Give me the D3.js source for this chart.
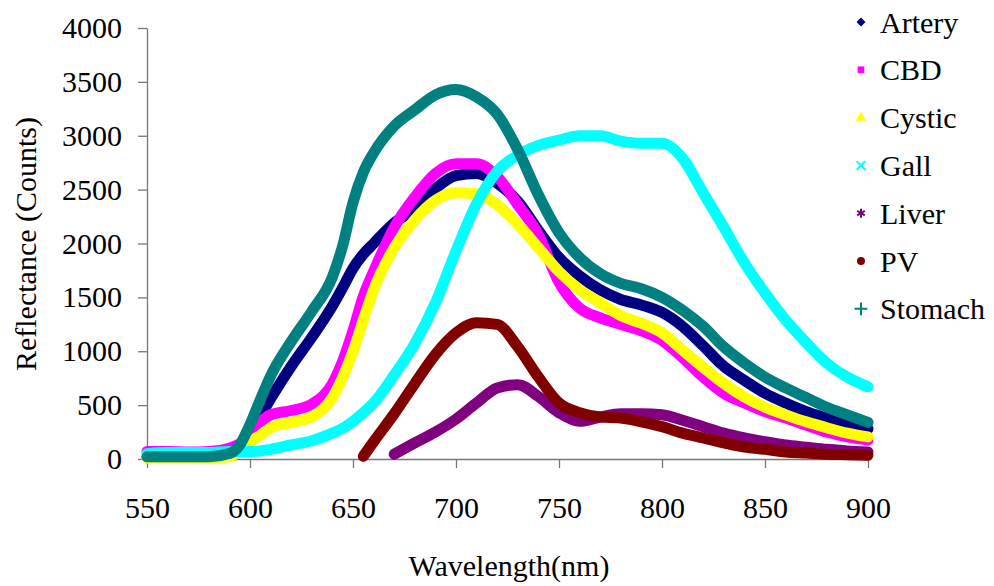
<!DOCTYPE html>
<html lang="en">
<head>
    <meta charset="UTF-8">
    <script src="https://cdnjs.cloudflare.com/ajax/libs/d3/7.8.5/d3.min.js"></script>
    <title>Reflectance spectra</title>
    <style>
        body { margin: 0; background: #fff; }
    </style>
</head>
<body>
    <svg width="994" height="586"></svg>
    <script>
        // wavelength grid (nm) shared by all series
        var wavelength = [550, 560, 570, 580, 590, 595, 600, 605, 610, 620, 630, 640, 645, 650, 655, 660,
            670, 680, 690, 700, 710, 720, 730, 740, 750, 760, 770, 780, 790, 800,
            810, 820, 830, 840, 850, 860, 870, 880, 890, 900];

        var artery = [20, 20, 20, 20, 30, 110, 260, 400, 560, 860, 1130, 1420, 1590, 1770, 1900, 2000,
            2190, 2320, 2510, 2630, 2650, 2560, 2390, 2120, 1870, 1700, 1570, 1480, 1430, 1360,
            1230, 1050, 860, 730, 610, 520, 440, 380, 320, 280];
        var cbd = [70, 70, 65, 70, 100, 140, 200, 340, 410, 450, 510, 700, 910, 1190, 1510, 1740,
            2150, 2430, 2650, 2740, 2740, 2620, 2360, 2080, 1640, 1400, 1310, 1250, 1190, 1100,
            940, 760, 610, 520, 440, 380, 315, 250, 205, 175];
        var cystic = [10, 10, 10, 10, 20, 80, 160, 220, 290, 340, 390, 570, 760, 1000, 1290, 1570,
            1960, 2220, 2400, 2470, 2460, 2360, 2180, 1960, 1740, 1570, 1450, 1330, 1260, 1170,
            1010, 850, 700, 575, 480, 410, 345, 290, 240, 205];
        var gall = [50, 60, 60, 60, 70, 70, 70, 75, 90, 130, 170, 240, 285, 350, 430, 520,
            780, 1070, 1450, 1930, 2370, 2670, 2820, 2910, 2960, 3000, 3000, 2950, 2930, 2930,
            2790, 2470, 2150, 1820, 1540, 1290, 1080, 890, 760, 670];
        var liver = [null, null, null, null, null, null, null, null, null, null, null, null, null, null, null, null,
            45, 150, 250, 370, 520, 660, 690, 580, 430, 350, 390, 420, 420, 410,
            360, 300, 240, 195, 160, 130, 110, 90, 75, 65];
        var pv = [null, null, null, null, null, null, null, null, null, null, null, null, null, null, 25, 160,
            420, 700, 970, 1170, 1265, 1250, 1040, 760, 520, 430, 390, 380, 345, 300,
            240, 195, 150, 110, 90, 65, 55, 45, 40, 35];
        var stomach = [20, 20, 20, 20, 50, 130, 320, 550, 770, 1090, 1370, 1690, 1980, 2380, 2660, 2840,
            3090, 3240, 3380, 3430, 3360, 3200, 2870, 2450, 2100, 1870, 1720, 1630, 1580, 1500,
            1380, 1230, 1040, 890, 760, 660, 570, 480, 410, 340];

        var seriesNames = ["Artery", "CBD", "Cystic", "Gall", "Liver", "PV", "Stomach"];
        var seriesValues = [artery, cbd, cystic, gall, liver, pv, stomach];
        var seriesColors = ["#000080", "#ff00ff", "#ffff00", "#00ffff", "#800080", "#800000", "#008080"];
        var xTicks = [550, 600, 650, 700, 750, 800, 850, 900];
        var yTicks = [0, 500, 1000, 1500, 2000, 2500, 3000, 3500, 4000];

        var FONT = "'Liberation Serif', Tinos, 'Times New Roman', 'DejaVu Serif', serif";

        var svg = d3.select("svg");

        var x = d3.scaleLinear().domain([550, 900]).range([147, 868]);
        var y = d3.scaleLinear().domain([0, 4000]).range([459, 28]);

        // axes
        svg.append("g")
            .attr("transform", "translate(0,459)")
            .call(d3.axisBottom(x).tickValues(xTicks).tickFormat(d3.format("d"))
                .tickSize(9).tickPadding(29).tickSizeOuter(0));
        svg.append("g")
            .attr("transform", "translate(147,0)")
            .call(d3.axisLeft(y).tickValues(yTicks).tickFormat(d3.format("d"))
                .tickSize(9).tickPadding(16).tickSizeOuter(0));

        svg.selectAll(".domain, .tick line").attr("stroke", "#777").attr("stroke-width", 1.3);
        svg.selectAll(".tick text")
            .attr("font-family", FONT)
            .attr("font-size", 30)
            .attr("fill", "#000");

        // series bands
        var line = d3.line()
            .defined(d => d[1] != null)
            .x(d => x(d[0]))
            .y(d => y(d[1]))
            .curve(d3.curveMonotoneX);

        seriesValues.forEach((vals, i) => {
            var pts = wavelength.map((w, j) => [w, vals[j]]);
            svg.append("path")
                .datum(pts)
                .attr("d", line)
                .attr("fill", "none")
                .attr("stroke", seriesColors[i])
                .attr("stroke-width", 11)
                .attr("stroke-linejoin", "round")
                .attr("stroke-linecap", "round");
        });

        // axis titles
        svg.append("text")
            .attr("x", 509)
            .attr("y", 576)
            .attr("text-anchor", "middle")
            .attr("font-family", FONT)
            .attr("font-size", 30)
            .text("Wavelength(nm)");

        svg.append("text")
            .attr("transform", "translate(36,244) rotate(-90)")
            .attr("text-anchor", "middle")
            .attr("font-family", FONT)
            .attr("font-size", 30)
            .text("Reflectance (Counts)");

        // legend
        var symbols = [
            d3.symbolSquare,
            d3.symbolSquare,
            d3.symbolTriangle,
            d3.symbolX || d3.symbolCross,
            d3.symbolAsterisk || d3.symbolStar,
            d3.symbolCircle,
            d3.symbolPlus || d3.symbolCross
        ];
        var rotation = [45, 0, 0, 0, 0, 0, 0];
        var stroked = [false, false, false, true, true, false, true];
        var symSize = [40, 45, 50, 50, 55, 50, 55];

        var legend = svg.append("g");
        seriesNames.forEach((name, i) => {
            var ly = 22 + i * 47.8;
            var sym = legend.append("path")
                .attr("transform", "translate(861," + ly + ") rotate(" + rotation[i] + ")")
                .attr("d", d3.symbol().type(symbols[i]).size(symSize[i])());
            if (stroked[i]) {
                sym.attr("fill", "none").attr("stroke", seriesColors[i]).attr("stroke-width", 2);
            } else {
                sym.attr("fill", seriesColors[i]);
            }
            legend.append("text")
                .attr("x", 880)
                .attr("y", ly)
                .attr("dy", "0.35em")
                .attr("font-family", FONT)
                .attr("font-size", 30)
                .text(name);
        });
    </script>
</body>
</html>
